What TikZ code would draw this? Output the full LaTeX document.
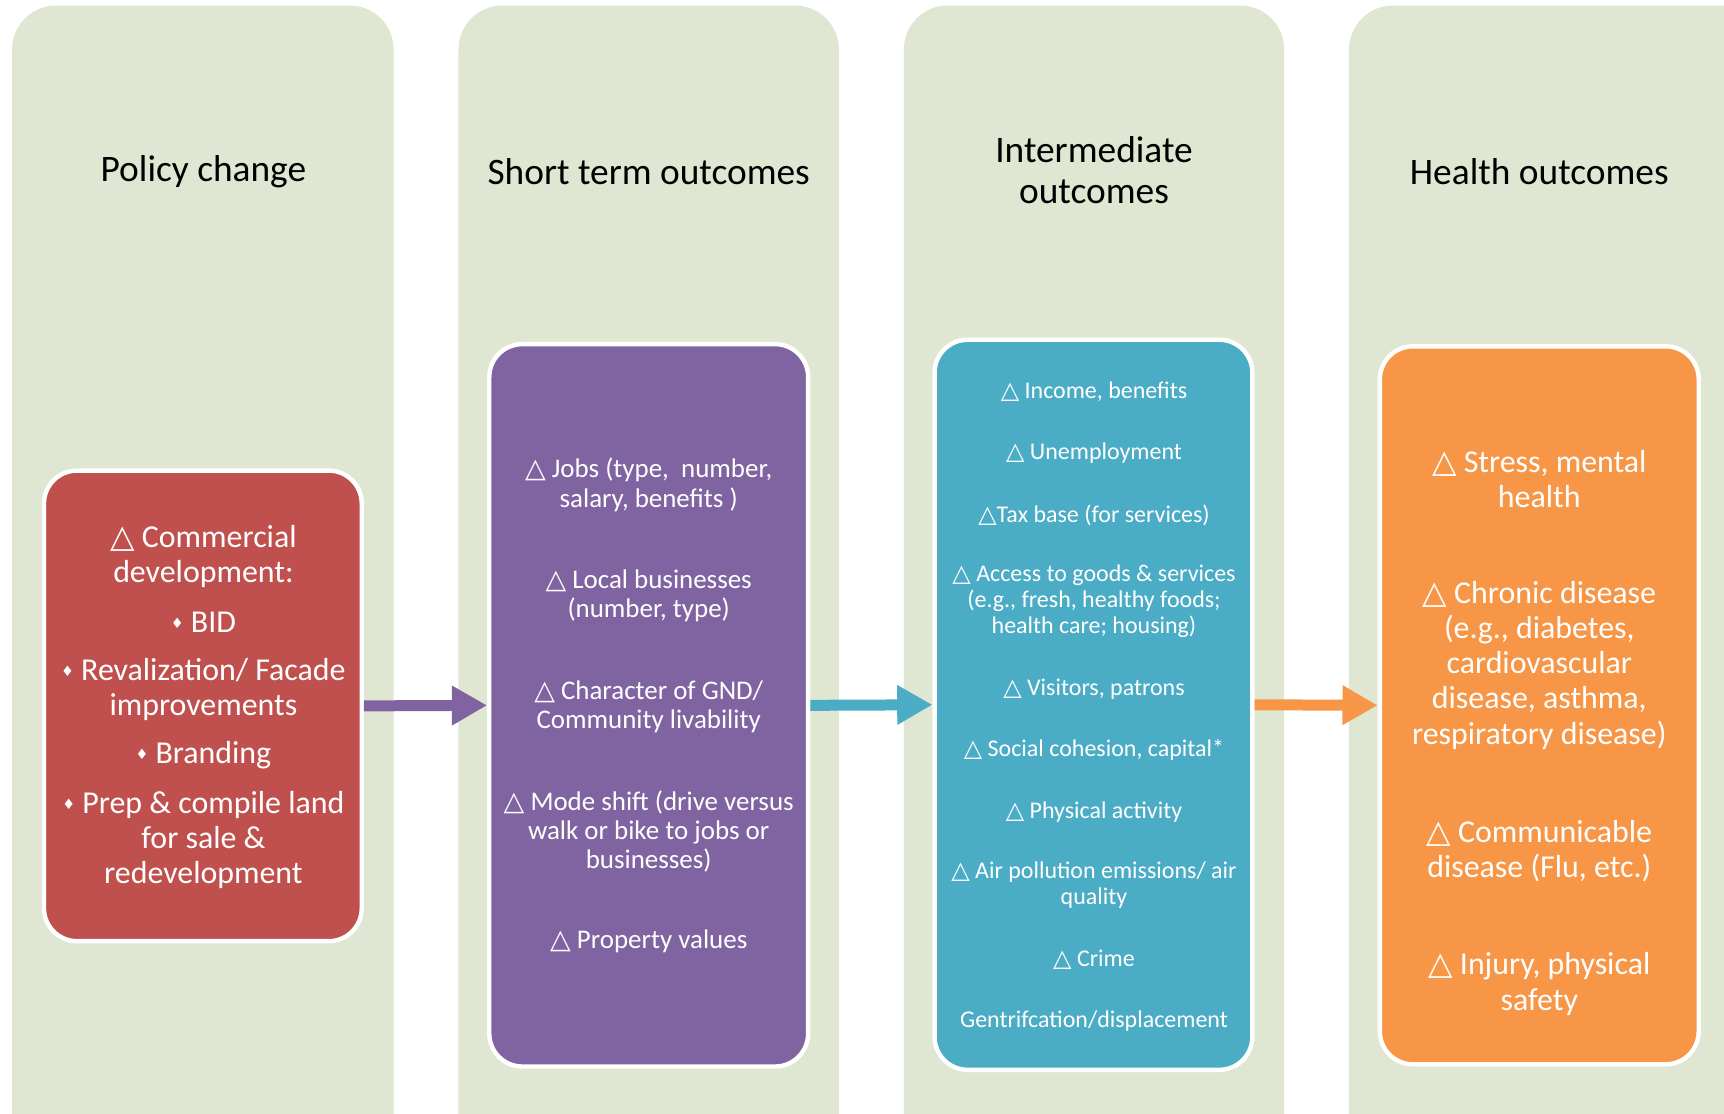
\documentclass[tikz,border=0pt]{standalone}
\usepackage{fontspec}
\setmainfont{Carlito}
\newfontfamily\symf{DejaVu Sans}
\usetikzlibrary{arrows.meta}
\definecolor{colbg}{HTML}{DFE7D2}
\definecolor{cred}{HTML}{C0504D}
\definecolor{cpurple}{HTML}{8064A2}
\definecolor{ccyan}{HTML}{4BACC6}
\definecolor{corange}{HTML}{F79646}
\newcommand\tri{{\symf\char"25B3}}
\newcommand\dia{\raisebox{0.12em}{\symf\fontsize{13}{13}\selectfont\char"2666}}
\begin{document}
\begin{tikzpicture}[x=1pt,y=-1pt,
  coltitle/.style={font=\fontsize{34}{37}\selectfont, text=black, align=center, inner sep=0pt},
  box/.style={draw=white, line width=4pt, rounded corners=30pt, inner sep=0pt},
  bigtxt/.style={font=\fontsize{29}{32}\selectfont, text=white, align=center, inner sep=0pt},
  midtxt/.style={font=\fontsize{24.5}{26.5}\selectfont, text=white, align=center, inner sep=0pt},
  smalltxt/.style={font=\fontsize{21.8}{23.5}\selectfont, text=white, align=center, inner sep=0pt},
  arr/.style={line width=10pt, -{Triangle[length=32pt,width=34pt]}}
]
\useasboundingbox (0,0) rectangle (1568,1013);
\begin{scope}
\clip (0,0) rectangle (1568,1013);
\fill[colbg, rounded corners=40pt] (11,5) rectangle (358,1080);
\fill[colbg, rounded corners=40pt] (417,5) rectangle (763,1080);
\fill[colbg, rounded corners=40pt] (822,5) rectangle (1168,1080);
\fill[colbg, rounded corners=40pt] (1227,5) rectangle (1620,1080);
\end{scope}

\node[coltitle] (t1) at (185,156) {Policy change};
\node[coltitle] (t2) at (590,156) {Short term outcomes};
\node[coltitle] (t3) at (995,155) {Intermediate\\outcomes};
\node[coltitle] (t4) at (1400,156) {Health outcomes};

\node[box, fill=cred, minimum width=289pt, minimum height=428pt] (red) at (184.5,642) {};
\node[box, fill=cpurple, minimum width=290pt, minimum height=657pt] (purple) at (590,641.5) {};
\node[box, fill=ccyan, minimum width=289pt, minimum height=664pt] (cyan) at (994.5,641) {};
\node[box, fill=corange, minimum width=290pt, minimum height=653pt] (orange) at (1400,641.5) {};

\draw[arr, cpurple] (red.east) -- (purple.west);
\draw[arr, ccyan] (purple.east) -- (cyan.west);
\draw[arr, corange] (cyan.east) -- (orange.west);

\node[bigtxt] (r1) at (185,506) {\tri{} Commercial\\development:};
\node[bigtxt] (r2) at (185,566) {\dia{} BID};
\node[bigtxt] (r3) at (185,627) {\dia{} Revalization/ Facade\\improvements};
\node[bigtxt] (r4) at (185,687) {\dia{} Branding};
\node[bigtxt] (r5) at (185,764) {\dia{} Prep \& compile land\\for sale \&\\redevelopment};

\node[midtxt] (p1) at (590,441) {\tri{} Jobs (type,\ \ number,\\salary, benefits )};
\node[midtxt] (p2) at (590,542) {\tri{} Local businesses\\(number, type)};
\node[midtxt] (p3) at (590,642.5) {\tri{} Character of GND/\\Community livability};
\node[midtxt] (p4) at (590,756.5) {\tri{} Mode shift (drive versus\\walk or bike to jobs or\\businesses)};
\node[midtxt] (p5) at (590,856.5) {\tri{} Property values};

\node[smalltxt] (c1) at (995,356.5) {\tri{} Income, benefits};
\node[smalltxt] (c2) at (995,412.5) {\tri{} Unemployment};
\node[smalltxt] (c3) at (995,468.5) {\tri{}Tax base (for services)};
\node[smalltxt] (c4) at (995,547) {\tri{} Access to goods \& services\\(e.g., fresh, healthy foods;\\health care; housing)};
\node[smalltxt] (c5) at (995,626.5) {\tri{} Visitors, patrons};
\node[smalltxt] (c6) at (995,682.5) {\tri{} Social cohesion, capital*};
\node[smalltxt] (c7) at (995,738.5) {\tri{} Physical activity};
\node[smalltxt] (c8) at (995,805) {\tri{} Air pollution emissions/ air\\quality};
\node[smalltxt] (c9) at (995,872.5) {\tri{} Crime};
\node[smalltxt] (c10) at (995,928.5) {Gentrifcation/displacement};

\node[bigtxt] (o1) at (1400,436) {\tri{} Stress, mental\\health};
\node[bigtxt] (o2) at (1400,605) {\tri{} Chronic disease\\(e.g., diabetes,\\cardiovascular\\disease, asthma,\\respiratory disease)};
\node[bigtxt] (o3) at (1400,774) {\tri{} Communicable\\disease (Flu, etc.)};
\node[bigtxt] (o4) at (1400,895) {\tri{} Injury, physical\\safety};
\end{tikzpicture}
\end{document}
